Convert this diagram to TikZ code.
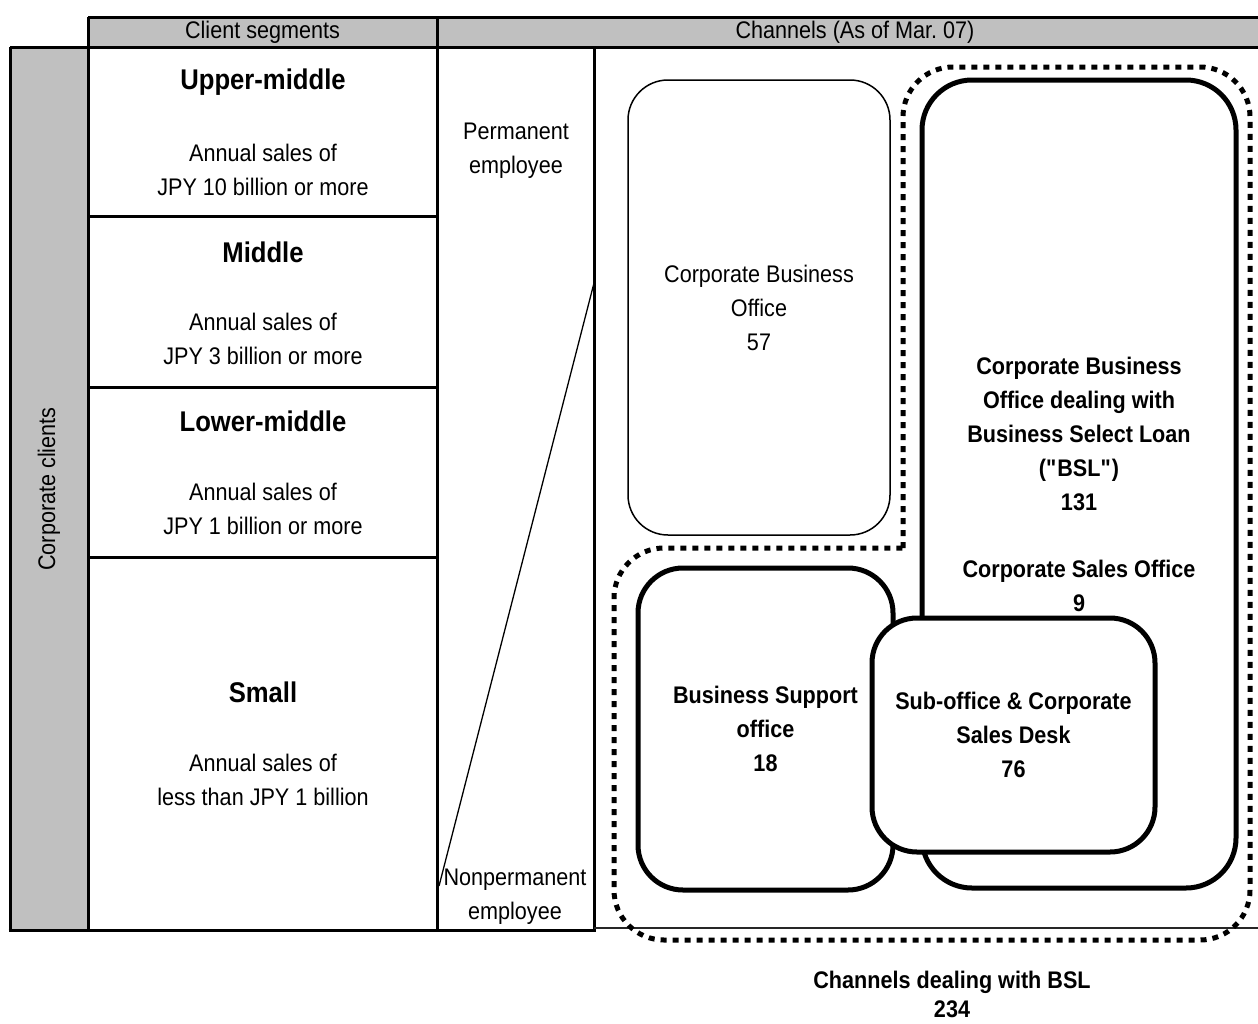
\documentclass[tikz,border=0pt]{standalone}
\usepackage{fontspec}
\setmainfont{Liberation Sans}[FakeStretch=0.9]
\definecolor{hdrgray}{HTML}{C0C0C0}
\begin{document}
\begin{tikzpicture}[x=1pt,y=-1pt,
  gridline/.style={line width=3pt},
  txt/.style={font=\fontsize{24}{34}\selectfont, align=center, inner sep=0pt},
  btxt/.style={font=\fontsize{24}{34}\selectfont\bfseries, align=center, inner sep=0pt},
  seghead/.style={font=\fontsize{28.5}{33}\selectfont\bfseries, inner sep=0pt},
  thinbox/.style={draw, line width=1.5pt, rounded corners=40pt, fill=white, inner sep=0pt},
  thickbox/.style={draw, line width=5pt, rounded corners=45pt, fill=white, inner sep=0pt},
  dotline/.style={line width=5pt, dash pattern=on 6pt off 6pt}]
\useasboundingbox (0,0) rectangle (1258,1023);
\fill[white] (0,0) rectangle (1258,1023);

% header
\fill[hdrgray] (88,17) rectangle (1262,47);
\fill[hdrgray] (10,47) rectangle (88,930);
\draw[gridline] (88,17) -- (1262,17);
\draw[gridline] (10,47) -- (1262,47);
\draw[gridline] (88,17) -- (88,930);
\draw[gridline] (437,17) -- (437,930);
\draw[gridline] (10,47) -- (10,930);
\draw[gridline] (594,47) -- (594,930);
\draw[gridline] (88,216) -- (438,216);
\draw[gridline] (88,387) -- (438,387);
\draw[gridline] (88,557) -- (438,557);
\draw[gridline] (8.5,930) -- (595.5,930);
\draw[line width=2pt, black!85] (594,928) -- (1262,928);

\node[txt] (hclient) at (262.5,32) {Client segments};
\node[txt] (hchan) at (855,32) {Channels (As of Mar.\ 07)};
\node[txt, rotate=90] (corp) at (49,489) {Corporate clients};

% segments
\node[seghead] (um) at (263,82) {Upper-middle};
\node[txt] (umd) at (263,170) {Annual sales of\\JPY 10 billion or more};
\node[seghead] (mid) at (263,252) {Middle};
\node[txt] (midd) at (263,339) {Annual sales of\\JPY 3 billion or more};
\node[seghead] (lm) at (263,421) {Lower-middle};
\node[txt] (lmd) at (263,509) {Annual sales of\\JPY 1 billion or more};
\node[seghead] (sm) at (263,692) {Small};
\node[txt] (smd) at (263,780) {Annual sales of\\less than JPY 1 billion};

% employees
\node[txt] (perm) at (516,151) {Permanent\\employee};
\node[txt] (nonperm) at (515,897) {Nonpermanent\\employee};
\coordinate (dtop) at (594,283);
\coordinate (dbot) at (439,886);
\draw[line width=1.3pt] (dtop) -- (dbot);

% dotted outline
\draw[dotline] (903,548) [rounded corners=50pt] -- (903,67) -- (1250,67) -- (1250,940) -- (614,940) -- (614,548) [sharp corners] -- cycle;

% boxes
\node[thinbox, minimum width=262pt, minimum height=455pt, txt] (cbo) at (759,307.5)
  {Corporate Business\\Office\\57};
\node[thickbox, minimum width=314pt, minimum height=808pt, btxt, rounded corners=50pt] (bsl) at (1079,484)
  {Corporate Business\\Office dealing with\\Business Select Loan\\(\textquotedbl BSL\textquotedbl)\\131\\[33pt]Corporate Sales Office\\9};
\node[thickbox, minimum width=255pt, minimum height=322pt, btxt] (bso) at (765.5,729)
  {Business Support\\office\\18};
\node[thickbox, minimum width=283pt, minimum height=234pt, btxt] (sub) at (1013.5,735)
  {Sub-office \& Corporate\\Sales Desk\\76};

\node[btxt, font=\fontsize{24}{29}\selectfont\bfseries] (chbsl) at (952,994) {Channels dealing with BSL\\234};
\end{tikzpicture}
\end{document}
